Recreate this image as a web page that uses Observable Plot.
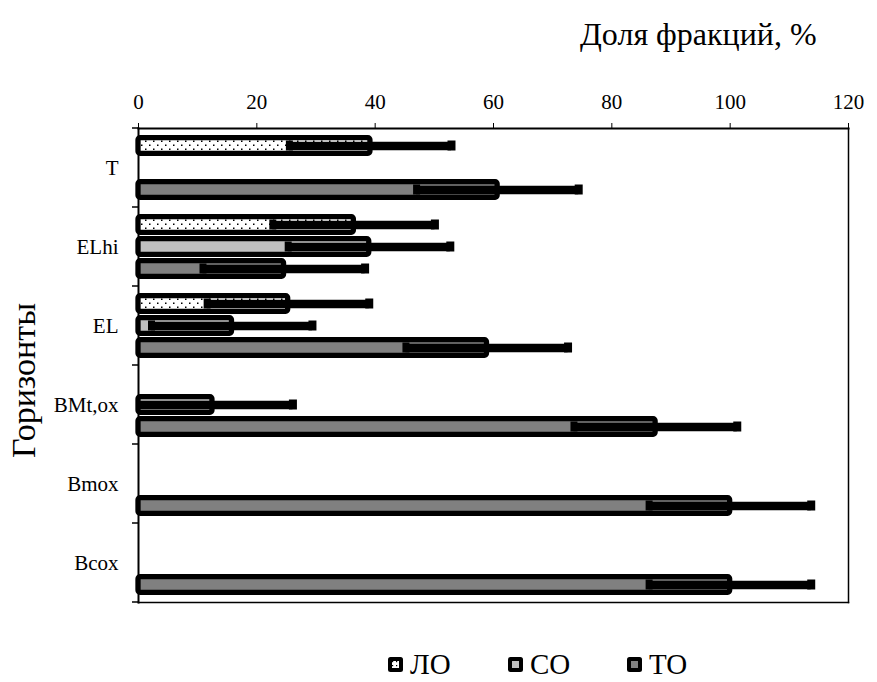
<!DOCTYPE html>
<html>
<head>
<meta charset="utf-8">
<script src="https://cdn.jsdelivr.net/npm/d3@7"></script>
<script src="https://cdn.jsdelivr.net/npm/@observablehq/plot@0.6"></script>
<style>
  body { margin: 0; background: #fff; color: #000; font-family: "Liberation Serif", "Liberation Sans", sans-serif; }
  #wrap { width: 877px; }
  #title { height: 66px; position: relative; }
  #title span { position: absolute; left: 580px; top: 18px; font-size: 32px; line-height: 1; white-space: nowrap; }
  #legend { height: 36px; position: relative; }
  .item { position: absolute; top: 0; height: 36px; display: flex; align-items: center; font-size: 29px; line-height: 1; }
  .item svg { margin-right: 7px; }
</style>
</head>
<body>
<div id="wrap">
  <div id="title"><span>Доля фракций, %</span></div>
  <div id="chart"></div>
  <div id="legend"></div>
</div>
<script>
// Soil horizons (rows) and fractions (bars within a row)
const horizons = ["T", "ELhi", "EL", "BMt,ox", "Bmox", "Bcox"];
const series = ["ЛО", "СО", "ТО"];

// Share of each fraction, % (null = fraction absent in the horizon)
const loValues = [39.2, 36.4, 25.3, null, null, null];
const soValues = [null, 39.0, 15.8, 12.5, null, null];
const toValues = [60.7, 24.6, 58.9, 87.4, 100, 100];

// Error bar half-widths, %
const loErrors = [13.7, 13.7, 13.7, null, null, null];
const soErrors = [null, 13.7, 13.6, 13.6, null, null];
const toErrors = [13.7, 13.7, 13.7, 13.8, 13.7, 13.7];

const xTicks = [0, 20, 40, 60, 80, 100, 120];
const seriesFills = ["url(#lo-dots)", "#c0c0c0", "#808080"];

// Long table built from the arrays above
const valueSets = [loValues, soValues, toValues];
const errorSets = [loErrors, soErrors, toErrors];
const rows = [];
series.forEach((s, si) => {
  horizons.forEach((h, hi) => {
    const v = valueSets[si][hi];
    if (v != null) rows.push({horizon: h, series: s, value: v, err: errorSets[si][hi]});
  });
});

const chart = Plot.plot({
  width: 877,
  height: 580,
  marginTop: 61,
  marginBottom: 44,
  marginLeft: 138,
  marginRight: 29,
  style: {fontFamily: "'Liberation Serif', 'Liberation Sans', sans-serif", fontSize: "21px", background: "#fff", color: "#000"},
  x: {domain: [0, 120], ticks: xTicks, axis: "top", clamp: true, label: null, tickSize: 6, tickPadding: 14},
  fy: {domain: horizons, padding: 0, axis: "left", label: null, tickSize: 0, tickPadding: 20, fontSize: 20},
  y: {domain: series, paddingInner: 0.04, paddingOuter: 0.24, axis: null},
  color: {domain: series, range: seriesFills},
  marks: [
    Plot.barX(rows, {
      x: "value", y: "series", fy: "horizon", fill: "series",
      stroke: "#000", strokeWidth: 5.3, rx: 2, insetTop: 2.7, insetBottom: 2.7
    }),
    Plot.ruleY(rows, {
      y: "series", fy: "horizon",
      x1: d => d.value - d.err, x2: d => d.value + d.err,
      stroke: "#000", strokeWidth: 8.5
    }),
    Plot.tickX(rows, {
      x: d => d.value + d.err, y: "series", fy: "horizon",
      stroke: "#000", strokeWidth: 8, insetTop: 5.5, insetBottom: 5.5
    }),
    Plot.tickX(rows.filter(d => d.value - d.err > 0), {
      x: d => d.value - d.err, y: "series", fy: "horizon",
      stroke: "#000", strokeWidth: 7, insetTop: 5.5, insetBottom: 5.5
    }),
    Plot.frame({facet: "super", anchor: "top", stroke: "#000", strokeWidth: 2}),
    Plot.frame({facet: "super", anchor: "left", stroke: "#000", strokeWidth: 2}),
    Plot.frame({facet: "super", anchor: "right", stroke: "#000", strokeWidth: 1.5}),
    Plot.frame({facet: "super", anchor: "bottom", stroke: "#000", strokeWidth: 1.5}),
    Plot.text(["Горизонты"], {
      facet: "super", frameAnchor: "left", textAnchor: "middle", rotate: -90,
      dx: -114, dy: 15, fontSize: 34, fill: "#000"
    })
  ]
});

// Dotted fill used by the ЛО bars
const defs = d3.select(chart).insert("defs", ":first-child");
const pat = defs.append("pattern").attr("id", "lo-dots").attr("patternUnits", "userSpaceOnUse")
  .attr("width", 8).attr("height", 8);
pat.append("rect").attr("width", 8).attr("height", 8).attr("fill", "#fff");
pat.append("rect").attr("x", 1).attr("y", 1.5).attr("width", 1.5).attr("height", 1.5).attr("fill", "#000");
pat.append("rect").attr("x", 5).attr("y", 5.5).attr("width", 1.5).attr("height", 1.5).attr("fill", "#000");

// Category boundary ticks on the left axis
const fy = chart.scale("fy");
const xs = chart.scale("x");
const x0 = xs.apply(0);
const bounds = horizons.map(h => fy.apply(h));
bounds.push(fy.apply(horizons[horizons.length - 1]) + fy.bandwidth);
d3.select(chart).append("g").selectAll("line").data(bounds).join("line")
  .attr("x1", x0 - 6).attr("x2", x0).attr("y1", d => d).attr("y2", d => d)
  .attr("stroke", "#000").attr("stroke-width", 1.5);

document.getElementById("chart").append(chart);

// Legend
const legendLeft = [388, 508, 627];
const legend = d3.select("#legend");
series.forEach((s, i) => {
  const item = legend.append("div").attr("class", "item").style("left", legendLeft[i] + "px");
  const sw = item.append("svg").attr("width", 15).attr("height", 15);
  if (i === 0) {
    const p = sw.append("defs").append("pattern").attr("id", "lo-dots-key")
      .attr("patternUnits", "userSpaceOnUse").attr("width", 4).attr("height", 4);
    p.append("rect").attr("width", 4).attr("height", 4).attr("fill", "#fff");
    p.append("rect").attr("x", 0).attr("y", 0).attr("width", 1.2).attr("height", 1.2).attr("fill", "#000");
  }
  sw.append("rect").attr("x", 0).attr("y", 0).attr("width", 15).attr("height", 15).attr("rx", 2.5).attr("fill", "#000");
  sw.append("rect").attr("x", 4).attr("y", 4).attr("width", 7).attr("height", 7)
    .attr("fill", i === 0 ? "url(#lo-dots-key)" : seriesFills[i]);
  item.append("span").text(s);
});
</script>
</body>
</html>
